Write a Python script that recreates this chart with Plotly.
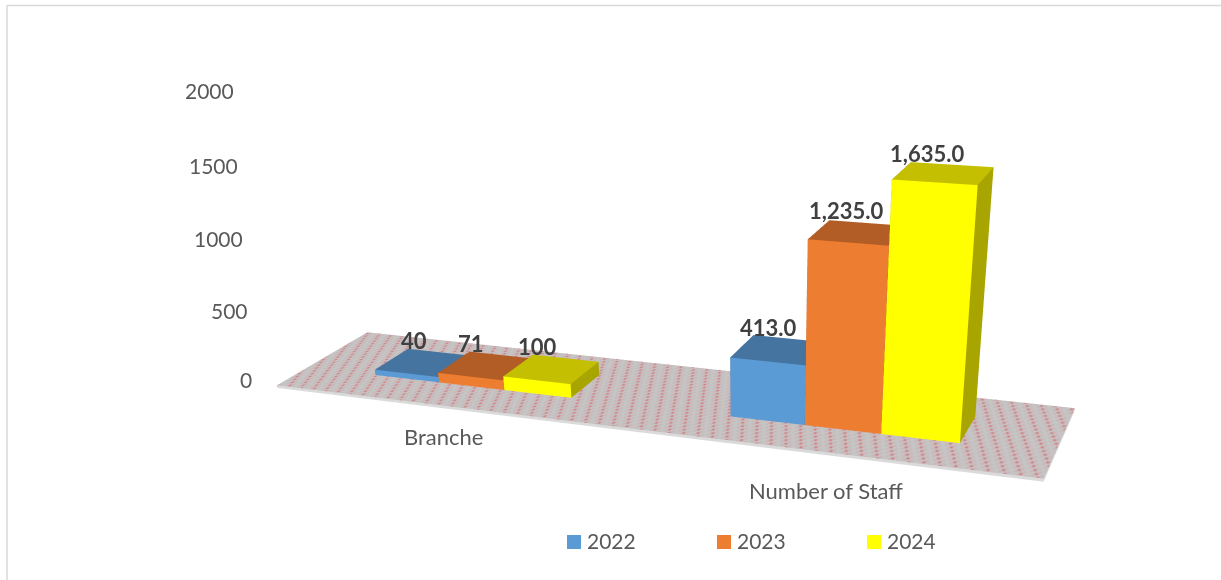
import numpy as np
import plotly.graph_objects as go

# Chart values
categories = ["Branche", "Number of Staff"]
years = ["2022", "2023", "2024"]
values_2022 = [40, 413]
values_2023 = [71, 1235]
values_2024 = [100, 1635]
tick_values = [0, 500, 1000, 1500, 2000]

# Bar face colours per year: front, top, right side
front_colors = ["#5B9BD5", "#ED7D31", "#FFFF00"]
top_colors = ["#44749F", "#B25D25", "#C4BF00"]
side_colors = ["#44749F", "#B25D25", "#A9A500"]
ink = "#595959"
label_ink = "#404040"
font_family = "Lato"

# Page and 3D viewport: a tall canvas gives the long lens of the perspective
page_w, page_h = 1221, 1300
lens_centre_x = 700
x_range = [0.0, 2.0]
y_range = [0.0, 1.0]
z_range = [-40.0, 2000.0]
bar_width = 0.1902
group_offset = -0.006
depth_front, depth_back = 0.3241, 0.7114

# Scene proportions and camera, expressed in model units
floor_depth, height_per_max = 0.2293, 0.2985
aspect = dict(x=1.0, y=floor_depth, z=height_per_max * (z_range[1] - z_range[0]) / 1635)
box_mid = np.array([0.5, floor_depth / 2,
                    (sum(z_range) / 2) / 1635 * height_per_max])
eye_pos = np.array([1.2102, -1.6444, 0.7038])
azim, elev, roll = 0.3628, 0.516, -0.0202
back = np.array([np.cos(elev) * np.sin(azim), -np.cos(elev) * np.cos(azim), np.sin(elev)])
right = np.cross([0, 0, 1.0], back)
right /= np.linalg.norm(right)
up_vec = np.cross(back, right)
up_vec = -np.sin(roll) * right + np.cos(roll) * up_vec
eye_rel = eye_pos - box_mid
look_rel = eye_rel - back * 2.0


def xyz(v):
    return dict(x=float(v[0]), y=float(v[1]), z=float(v[2]))


def box_trace(x0, x1, y0, y1, z0, z1, front, top, side):
    """A solid block as a mesh with flat, unlit faces."""
    xs = [x0, x1, x1, x0, x0, x1, x1, x0]
    ys = [y0, y0, y1, y1, y0, y0, y1, y1]
    zs = [z0, z0, z0, z0, z1, z1, z1, z1]
    i = [0, 0, 1, 1, 4, 4, 3, 3, 0, 0, 0, 0]
    j = [1, 5, 2, 6, 5, 6, 2, 6, 3, 7, 1, 2]
    k = [5, 4, 6, 5, 6, 7, 6, 7, 7, 4, 2, 3]
    face = [front, front, side, side, top, top, side, side, side, side, side, side]
    return go.Mesh3d(x=xs, y=ys, z=zs, i=i, j=j, k=k, facecolor=face, flatshading=True,
                     lighting=dict(ambient=1, diffuse=0, specular=0, roughness=1, fresnel=0),
                     hoverinfo="skip", showlegend=False, showscale=False)


fig = go.Figure()

# Floor: speckled grey and red weave on a thin slab
nx, ny = 300, 44
floor_x = np.linspace(*x_range, nx)
floor_y = np.linspace(*y_range, ny)
col, row = np.meshgrid(np.arange(nx), np.arange(ny))
weave = (col * col + 3 * row * row + col * row) % 11
hatch = np.where(weave == 0, 0.8, np.where(weave == 5, 0.15, 0.0))
fig.add_trace(go.Surface(x=floor_x, y=floor_y, z=np.zeros((ny, nx)), surfacecolor=hatch,
                         cmin=0, cmax=1, showscale=False, hoverinfo="skip",
                         colorscale=[[0, "#C6C4C4"], [1, "#D9565F"]],
                         lighting=dict(ambient=1, diffuse=0, specular=0, roughness=1, fresnel=0),
                         contours=dict(x=dict(highlight=False), y=dict(highlight=False),
                                       z=dict(highlight=False))))
fig.add_trace(box_trace(x_range[0], x_range[1], y_range[0], y_range[1], z_range[0] / 2, -0.5,
                        "#DADADA", "#C6C4C4", "#DADADA"))

# Bars, three side by side in each category
series = [values_2022, values_2023, values_2024]
label_nudge = [[-25, -30, -28], [-21, -22, -25]]
label_lift = [[12, 12, 12], [11, 13, 11]]
annotations = []
for c, cat in enumerate(categories):
    centre = c + 0.5 + group_offset
    for s, vals in enumerate(series):
        x0 = centre + (s - 1.5) * bar_width
        x1 = x0 + bar_width
        fig.add_trace(box_trace(x0, x1, depth_front, depth_back, 0, vals[c],
                                front_colors[s], top_colors[s], side_colors[s]))
        text = f"{vals[c]:,.1f}" if c == 1 else f"{vals[c]:d}"
        annotations.append(dict(x=(x0 + x1) / 2, y=depth_back, z=vals[c], text=f"<b>{text}</b>",
                                showarrow=False, xanchor="center", yanchor="middle",
                                xshift=label_nudge[c][s], yshift=label_lift[c][s],
                                font=dict(family=font_family, size=22, color=label_ink)))

# Category captions sit below the front edge of the floor
caption_shift = [(-3, -31), (-2, -38)]
for c, cat in enumerate(categories):
    annotations.append(dict(x=c + 0.5, y=y_range[0], z=0, text=cat, showarrow=False,
                            xanchor="center", yanchor="middle",
                            xshift=caption_shift[c][0], yshift=caption_shift[c][1],
                            font=dict(family=font_family, size=22, color=ink)))

# An invisible cartesian axis carries the value scale
fig.add_trace(go.Scatter(x=[None], y=[None], mode="markers", showlegend=False,
                         xaxis="x", yaxis="y"))

# Value scale labels step inward as they descend
tick_right = [254, 250, 245, 240, 236]
tick_nudge = [1, -3, -3, -2, 1]
page_ann = [dict(xref="paper", yref="y", x=px / page_w, y=v, text=str(v), showarrow=False,
                 xanchor="right", yanchor="middle", yshift=dy,
                 font=dict(family=font_family, size=21, color=ink))
            for v, px, dy in zip(tick_values, tick_right, tick_nudge)]

# Legend row: swatch and year for each series
swatch_left = [567, 717, 867]
legend_y = 542
legend_shapes = []
for s, year in enumerate(years):
    legend_shapes.append(dict(type="rect", xref="paper", yref="paper", line=dict(width=0),
                              fillcolor=front_colors[s],
                              x0=swatch_left[s] / page_w, x1=(swatch_left[s] + 14) / page_w,
                              y0=1 - (legend_y + 7) / page_h, y1=1 - (legend_y - 7) / page_h))
    page_ann.append(dict(xref="paper", yref="paper", x=(swatch_left[s] + 18) / page_w,
                         y=1 - (legend_y - 1) / page_h, text=year, showarrow=False,
                         xanchor="left", yanchor="middle",
                         font=dict(family=font_family, size=21, color=ink)))

frame = dict(color="#D9D9D9", width=1.5)
fig.update_layout(
    width=page_w, height=page_h,
    margin=dict(l=0, r=0, t=0, b=0, pad=0),
    paper_bgcolor="white", plot_bgcolor="rgba(0,0,0,0)",
    hovermode=False, showlegend=False,
    font=dict(family=font_family, size=20, color=ink),
    xaxis=dict(visible=False, domain=[0, 1]),
    yaxis=dict(visible=False, range=[0, 2000], domain=[1 - 380 / page_h, 1 - 91 / page_h]),
    annotations=page_ann,
    shapes=legend_shapes + [
        dict(type="line", xref="paper", yref="paper", x0=7 / page_w, x1=1,
             y0=1 - 5.5 / page_h, y1=1 - 5.5 / page_h, line=frame),
        dict(type="line", xref="paper", yref="paper", x0=7 / page_w, x1=7 / page_w,
             y0=0, y1=1 - 5.5 / page_h, line=frame),
    ],
    scene=dict(
        domain=dict(x=[(2 * lens_centre_x - page_w) / page_w, 1], y=[0, 1]),
        bgcolor="white",
        dragmode="orbit",
        aspectmode="manual",
        aspectratio=aspect,
        xaxis=dict(visible=False, range=x_range),
        yaxis=dict(visible=False, range=y_range),
        zaxis=dict(visible=False, range=z_range),
        camera=dict(eye=xyz(eye_rel), center=xyz(look_rel), up=xyz(up_vec),
                    projection=dict(type="perspective")),
        annotations=annotations,
    ),
)

fig.write_html("out.html", config=dict(displayModeBar=False))
